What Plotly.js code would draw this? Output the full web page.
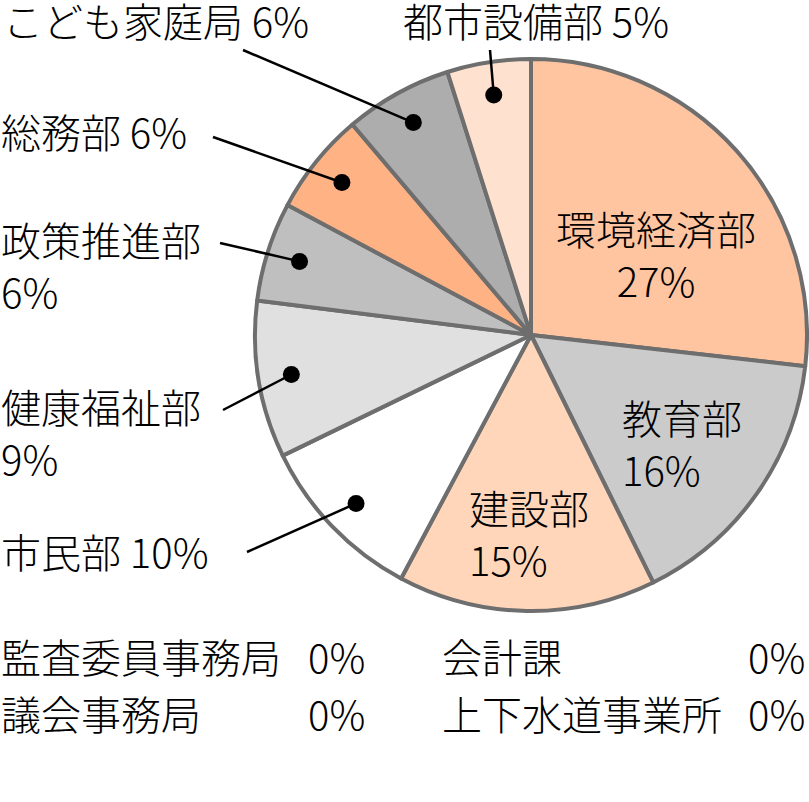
<!DOCTYPE html>
<html><head><meta charset="utf-8">
<script src="https://cdn.plot.ly/plotly-3.0.1.min.js"></script>
<style>html,body{margin:0;padding:0;background:#fff}</style>
</head><body><div id="chart" style="width:809px;height:802px"></div>
<script>
// ---- data ----
const departments = ['環境経済部','教育部','建設部','市民部','健康福祉部','政策推進部','総務部','こども家庭局','都市設備部'];
const shares = [26.8, 15.9, 15.1, 10.0, 9.2, 5.8, 6.0, 6.3, 4.9];
const sliceColors = ['#FFC4A0','#CBCBCB','#FFD6BA','#FFFFFF','#E0E0E0','#BFBFBF','#FFB385','#ADADAD','#FFE1D0'];
const zeroDepartments = ['監査委員事務局','議会事務局','会計課','上下水道事業所'];
const zeroShares = [0, 0, 0, 0];

// ---- layout geometry (pixels) ----
const W = 809, H = 802;
const CX = 531, CY = 335, R = 276;
const DOT_R = 0.88;
const FONT = '"Noto Sans CJK JP", "Noto Sans", sans-serif';
const FS = 40;
const TX = -4, TY = -4; // text box offset correction

const labelLayout = {
  '環境経済部': {inside: true, x: 656, y: 258, xanchor: 'center', br: true},
  '教育部':     {inside: true, x: 624, y: 447, xanchor: 'left', br: true},
  '建設部':     {inside: true, x: 471, y: 537, xanchor: 'left', br: true},
  '市民部':     {x: 3, y: 555, lx: 247, ly: 552},
  '健康福祉部': {x: 3, y: 436, br: true, lx: 223, ly: 410},
  '政策推進部': {x: 3, y: 269, br: true, lx: 220, ly: 243},
  '総務部':     {x: 3, y: 135, lx: 213, ly: 137},
  'こども家庭局': {x: 5, y: 24, lx: 243, ly: 50},
  '都市設備部': {x: 405, y: 24, lx: 490, ly: 50}
};
const zeroLayout = [
  {x: 3, y: 660, px: 365},
  {x: 3, y: 717, px: 365},
  {x: 444, y: 660, px: 805},
  {x: 444, y: 717, px: 805}
];

const px2x = p => p / W;
const py2y = p => 1 - p / H;
const textFont = {family: FONT, size: FS, color: '#000', weight: 300};

const total = shares.reduce((a, b) => a + b, 0);
const annotations = [];
const shapes = [];
let cum = 0;
departments.forEach((d, i) => {
  const frac = shares[i] / total;
  const mid = cum + frac / 2;
  cum += frac;
  const pct = Math.round(frac * 100) + '%';
  const L = labelLayout[d];
  const xa = L.xanchor || 'left';
  annotations.push({
    xref: 'paper', yref: 'paper', x: px2x(L.x + (xa === 'left' ? TX : 0)), y: py2y(L.y + TY),
    xanchor: xa, yanchor: 'middle', align: xa === 'center' ? 'center' : 'left',
    text: d + (L.br ? '<br>' : ' ') + pct, showarrow: false,
    font: textFont
  });
  if (!L.inside) {
    const th = 2 * Math.PI * mid;
    const dx = CX + DOT_R * R * Math.sin(th);
    const dy = CY - DOT_R * R * Math.cos(th);
    shapes.push({type: 'line', xref: 'paper', yref: 'paper',
      x0: px2x(L.lx), y0: py2y(L.ly), x1: px2x(dx), y1: py2y(dy),
      line: {color: '#000', width: 2.5}});
    const rr = 8.5;
    shapes.push({type: 'circle', xref: 'paper', yref: 'paper',
      x0: px2x(dx - rr), x1: px2x(dx + rr), y0: py2y(dy + rr), y1: py2y(dy - rr),
      fillcolor: '#000', line: {color: '#000', width: 0}});
  }
});
zeroDepartments.forEach((d, i) => {
  const Z = zeroLayout[i];
  annotations.push({xref: 'paper', yref: 'paper', x: px2x(Z.x + TX), y: py2y(Z.y + TY),
    xanchor: 'left', yanchor: 'middle', text: d, showarrow: false,
    font: textFont});
  annotations.push({xref: 'paper', yref: 'paper', x: px2x(Z.px + 2), y: py2y(Z.y + TY),
    xanchor: 'right', yanchor: 'middle', text: Math.round(zeroShares[i]) + '%', showarrow: false,
    font: textFont});
});

const trace = {
  type: 'pie', labels: departments, values: shares, sort: false,
  direction: 'clockwise', rotation: 0,
  marker: {colors: sliceColors, line: {color: '#6E6E6E', width: 4}},
  textinfo: 'none', hoverinfo: 'skip',
  domain: {x: [(CX - R) / W, (CX + R) / W], y: [(H - CY - R) / H, (H - CY + R) / H]}
};

Plotly.newPlot('chart', [trace], {
  width: W, height: H, margin: {l: 0, r: 0, t: 0, b: 0},
  paper_bgcolor: '#fff', showlegend: false,
  font: {family: FONT},
  shapes: shapes, annotations: annotations
}, {staticPlot: true});
</script>
</body></html>
